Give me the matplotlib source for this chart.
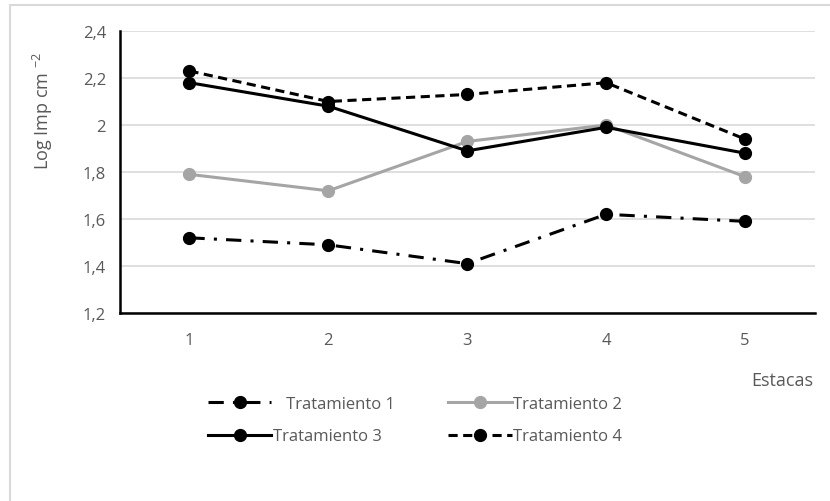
import matplotlib
matplotlib.use("Agg")
import matplotlib.pyplot as plt
from matplotlib.patches import Rectangle

estacas = [1, 2, 3, 4, 5]
trat1 = [1.52, 1.49, 1.41, 1.62, 1.59]
trat2 = [1.79, 1.72, 1.93, 2.00, 1.78]
trat3 = [2.18, 2.08, 1.89, 1.99, 1.88]
trat4 = [2.23, 2.10, 2.13, 2.18, 1.94]
yticks = [1.2, 1.4, 1.6, 1.8, 2.0, 2.2, 2.4]
ytick_labels = ["1,2", "1,4", "1,6", "1,8", "2", "2,2", "2,4"]

plt.rcParams["font.family"] = ["Open Sans", "DejaVu Sans"]
TXT = "#595959"

fig = plt.figure(figsize=(8.3, 5.02), dpi=100)
# outer chart frame
fig.patches.append(Rectangle((10 / 830, -0.01), 1.0, 1 - 5.5 / 502 + 0.01,
                             transform=fig.transFigure, fill=False,
                             edgecolor="#d9d9d9", lw=1.5))

ax = fig.add_axes([120 / 830, 1 - 314 / 502, (814.5 - 120) / 830, (314 - 32) / 502])

ms = 8.5
l1, = ax.plot(estacas, trat1, color="black", lw=2.2, ls=(0, (5, 3, 1, 3)),
              marker="o", ms=ms, label="   Tratamiento 1")
l2, = ax.plot(estacas, trat2, color="#a5a5a5", lw=2.2, ls="-",
              marker="o", ms=ms, label="Tratamiento 2")
l3, = ax.plot(estacas, trat3, color="black", lw=2.2, ls="-",
              marker="o", ms=ms, label="Tratamiento 3")
l4, = ax.plot(estacas, trat4, color="black", lw=2.2, ls=(0, (3, 1.8)),
              marker="o", ms=ms, label="Tratamiento 4")

ax.set_xlim(0.5, 5.5)
ax.set_ylim(1.2, 2.4)
ax.set_xticks(estacas)
ax.set_yticks(yticks)
ax.set_yticklabels(ytick_labels)
ax.tick_params(length=0, labelsize=12, colors=TXT, pad=10)
ax.tick_params(axis="x", pad=14)
ax.grid(axis="y", color="#d9d9d9", lw=1.2)
ax.set_axisbelow(True)
for s in ["top", "right"]:
    ax.spines[s].set_visible(False)
for s in ["left", "bottom"]:
    ax.spines[s].set_linewidth(1.8)
    ax.spines[s].set_color("black")

ax.set_ylabel("Log Imp cm $^{\\mathregular{-2}}$", fontsize=13, color=TXT)
ax.yaxis.set_label_coords(-0.093, 0.72)
fig.text(813 / 830, 1 - 381 / 502, "Estacas", fontsize=13, color=TXT,
         ha="right", va="center")

# row-wise order: T1 T2 / T3 T4
leg = fig.legend(handles=[l1, l3, l2, l4],
                 loc="center left", bbox_to_anchor=(193 / 830, 1 - 421 / 502),
                 ncol=2, frameon=False, fontsize=12, handlelength=3.8,
                 handletextpad=0.1, columnspacing=3.2, labelspacing=1.0)
for t in leg.get_texts():
    t.set_color(TXT)

fig.savefig("out.png", dpi=100)
